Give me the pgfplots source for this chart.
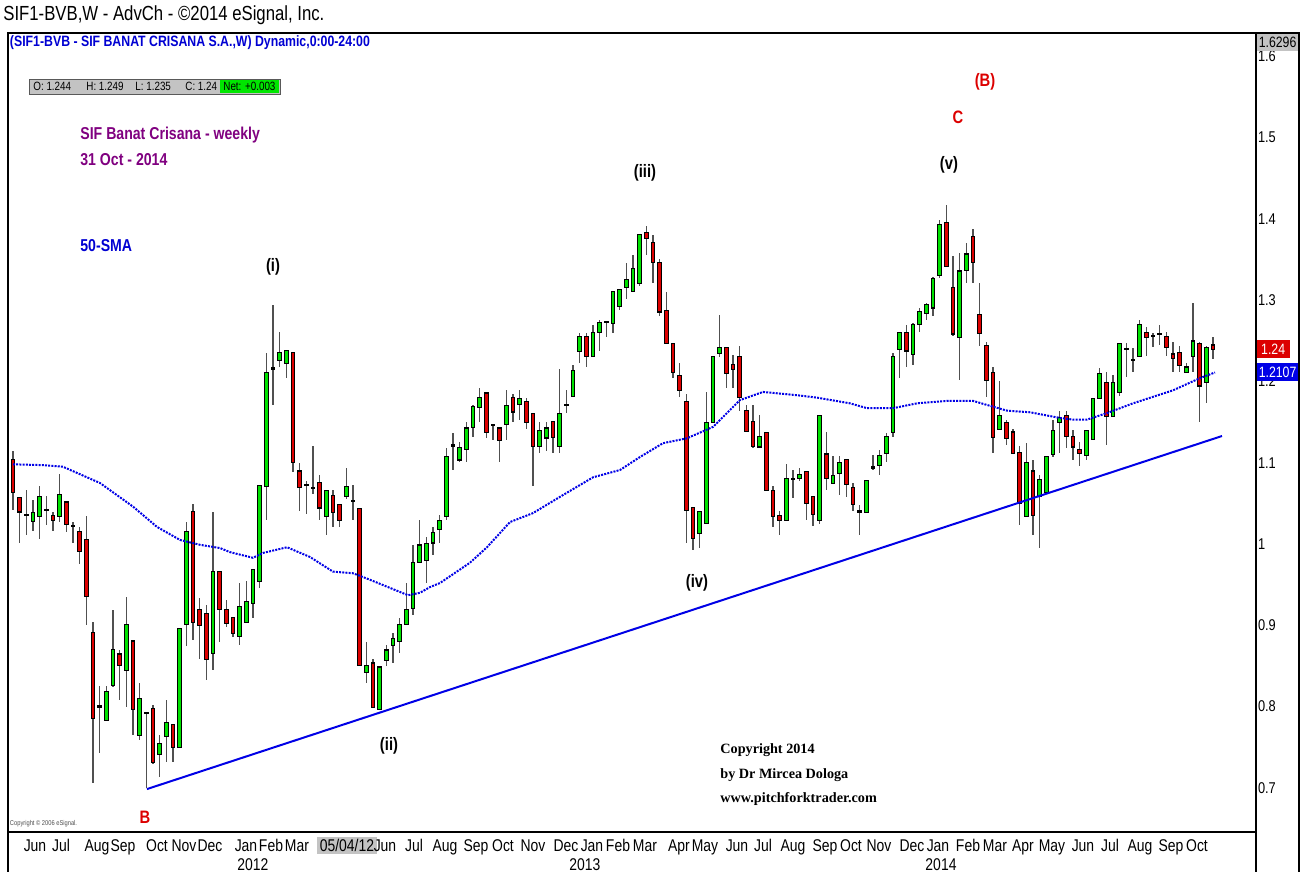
\documentclass[border=0pt]{standalone}
\usepackage{fontspec}
\setmainfont{Liberation Sans}
\newfontfamily\nar{Liberation Sans}[FakeStretch=0.82]
\newfontfamily\ser{Liberation Serif}
\usepackage{pgfplots}
\usepackage{pgfplotstable}
\pgfplotsset{compat=1.18}
\definecolor{cgreen}{RGB}{0,225,0}
\definecolor{cred}{RGB}{220,0,0}
\definecolor{wick}{RGB}{80,80,80}
\definecolor{smablue}{RGB}{0,0,230}
\definecolor{hdrblue}{RGB}{0,0,210}
\definecolor{purp}{RGB}{128,0,128}
\definecolor{boxgray}{RGB}{195,195,195}
\definecolor{netgreen}{RGB}{0,230,0}

% weekly candles: x = week index, open high low close
\pgfplotstableread{
x o h l c
0 1.103 1.114 1.042 1.064
1 1.056 1.057 1.001 1.040
2 1.036 1.066 1.011 1.036
3 1.028 1.054 1.016 1.038
4 1.035 1.071 1.006 1.058
5 1.042 1.059 1.023 1.042
6 1.034 1.039 1.016 1.030
7 1.034 1.086 1.027 1.060
8 1.051 1.053 1.015 1.025
9 1.022 1.027 1.001 1.022
10 1.015 1.021 0.976 0.991
11 1.005 1.034 0.900 0.936
12 0.890 0.904 0.706 0.786
13 0.800 0.825 0.743 0.800
14 0.784 0.825 0.783 0.818
15 0.827 0.919 0.824 0.870
16 0.864 0.870 0.808 0.851
17 0.845 0.935 0.800 0.900
18 0.880 0.880 0.765 0.797
19 0.765 0.829 0.759 0.809
20 0.792 0.793 0.700 0.792
21 0.797 0.802 0.730 0.732
22 0.742 0.765 0.714 0.754
23 0.764 0.808 0.732 0.780
24 0.777 0.777 0.732 0.750
25 0.750 0.895 0.750 0.895
26 0.902 1.027 0.874 1.015
27 1.039 1.049 0.882 0.904
28 0.919 0.934 0.859 0.901
29 0.914 0.925 0.833 0.859
30 0.866 1.039 0.845 0.965
31 0.966 0.966 0.880 0.920
32 0.919 0.931 0.898 0.903
33 0.909 0.909 0.886 0.891
34 0.887 0.952 0.876 0.922
35 0.904 0.954 0.903 0.929
36 0.927 0.968 0.909 0.968
37 0.955 1.073 0.946 1.071
38 1.071 1.235 1.030 1.210
39 1.216 1.294 1.171 1.216
40 1.226 1.261 1.218 1.235
41 1.223 1.237 1.204 1.237
42 1.235 1.235 1.089 1.101
43 1.089 1.100 1.040 1.070
44 1.073 1.078 1.037 1.073
45 1.069 1.121 1.062 1.069
46 1.075 1.085 1.030 1.045
47 1.035 1.065 1.011 1.065
48 1.059 1.066 1.021 1.039
49 1.048 1.048 1.021 1.030
50 1.059 1.093 1.055 1.070
51 1.053 1.073 1.030 1.053
52 1.043 1.043 0.851 0.851
53 0.843 0.880 0.829 0.850
54 0.853 0.859 0.800 0.800
55 0.797 0.848 0.796 0.848
56 0.857 0.876 0.850 0.869
57 0.876 0.890 0.854 0.883
58 0.881 0.909 0.866 0.900
59 0.902 0.952 0.902 0.919
60 0.921 0.999 0.913 0.977
61 0.978 1.030 0.978 0.998
62 0.980 1.009 0.952 1.000
63 1.002 1.021 0.987 1.013
64 1.019 1.036 1.001 1.028
65 1.034 1.118 1.030 1.107
66 1.121 1.137 1.091 1.121
67 1.104 1.126 1.101 1.118
68 1.117 1.150 1.101 1.142
69 1.144 1.171 1.132 1.168
70 1.169 1.192 1.150 1.180
71 1.185 1.185 1.130 1.138
72 1.146 1.147 1.128 1.146
73 1.142 1.142 1.101 1.128
74 1.148 1.189 1.128 1.170
75 1.180 1.185 1.150 1.163
76 1.172 1.189 1.153 1.178
77 1.175 1.179 1.142 1.150
78 1.160 1.160 1.071 1.121
79 1.121 1.150 1.112 1.139
80 1.131 1.150 1.114 1.142
81 1.150 1.150 1.112 1.132
82 1.121 1.215 1.112 1.160
83 1.171 1.189 1.161 1.171
84 1.182 1.220 1.182 1.213
85 1.237 1.259 1.222 1.254
86 1.254 1.259 1.218 1.231
87 1.231 1.269 1.231 1.259
88 1.261 1.276 1.237 1.272
89 1.273 1.274 1.255 1.273
90 1.272 1.310 1.259 1.310
91 1.293 1.312 1.288 1.312
92 1.316 1.346 1.301 1.325
93 1.311 1.356 1.311 1.338
94 1.321 1.380 1.317 1.380
95 1.382 1.391 1.356 1.376
96 1.370 1.380 1.321 1.347
97 1.346 1.351 1.280 1.286
98 1.286 1.310 1.247 1.247
99 1.246 1.246 1.204 1.212
100 1.207 1.223 1.181 1.189
101 1.175 1.185 1.001 1.042
102 1.044 1.044 0.993 1.008
103 1.014 1.039 0.995 1.039
104 1.026 1.187 1.026 1.149
105 1.150 1.230 1.150 1.230
106 1.235 1.282 1.230 1.241
107 1.241 1.241 1.192 1.210
108 1.220 1.233 1.192 1.215
109 1.230 1.244 1.163 1.181
110 1.164 1.171 1.139 1.139
111 1.150 1.171 1.118 1.121
112 1.120 1.159 1.120 1.131
113 1.136 1.136 1.066 1.066
114 1.065 1.071 1.021 1.035
115 1.034 1.040 1.011 1.030
116 1.030 1.098 1.030 1.080
117 1.080 1.091 1.056 1.080
118 1.081 1.093 1.077 1.085
119 1.089 1.089 1.030 1.050
120 1.058 1.058 1.022 1.037
121 1.030 1.157 1.025 1.157
122 1.110 1.138 1.066 1.081
123 1.075 1.108 1.075 1.084
124 1.087 1.108 1.060 1.100
125 1.103 1.103 1.058 1.074
126 1.069 1.075 1.040 1.049
127 1.040 1.048 1.011 1.040
128 1.039 1.077 1.038 1.077
129 1.094 1.110 1.091 1.094
130 1.097 1.116 1.085 1.108
131 1.112 1.136 1.101 1.132
132 1.138 1.235 1.132 1.230
133 1.240 1.259 1.204 1.259
134 1.259 1.269 1.218 1.238
135 1.234 1.272 1.220 1.269
136 1.271 1.290 1.261 1.285
137 1.284 1.296 1.276 1.294
138 1.291 1.329 1.280 1.326
139 1.331 1.399 1.327 1.392
140 1.395 1.417 1.342 1.342
141 1.315 1.354 1.256 1.259
142 1.255 1.358 1.202 1.335
143 1.337 1.370 1.321 1.356
144 1.377 1.388 1.321 1.347
145 1.282 1.321 1.243 1.260
146 1.243 1.249 1.181 1.202
147 1.210 1.218 1.112 1.132
148 1.141 1.200 1.140 1.157
149 1.149 1.153 1.122 1.130
150 1.137 1.141 1.112 1.112
151 1.112 1.120 1.023 1.051
152 1.034 1.124 1.034 1.100
153 1.089 1.103 1.011 1.036
154 1.059 1.085 0.995 1.079
155 1.064 1.107 1.064 1.107
156 1.111 1.153 1.107 1.139
157 1.150 1.163 1.112 1.155
158 1.157 1.163 1.118 1.133
159 1.132 1.140 1.103 1.120
160 1.116 1.126 1.096 1.112
161 1.110 1.139 1.103 1.139
162 1.129 1.180 1.129 1.178
163 1.180 1.216 1.180 1.209
164 1.198 1.211 1.122 1.157
165 1.157 1.208 1.157 1.198
166 1.187 1.247 1.182 1.246
167 1.240 1.247 1.206 1.240
168 1.226 1.241 1.211 1.226
169 1.231 1.276 1.231 1.269
170 1.259 1.267 1.231 1.255
171 1.256 1.259 1.242 1.256
172 1.258 1.269 1.245 1.258
173 1.255 1.261 1.231 1.242
174 1.233 1.249 1.212 1.229
175 1.235 1.244 1.212 1.220
176 1.212 1.223 1.212 1.217
177 1.231 1.296 1.211 1.249
178 1.246 1.249 1.150 1.195
179 1.199 1.244 1.174 1.241
180 1.244 1.255 1.228 1.240
}\candles

\begin{document}
\begin{tikzpicture}
\path[use as bounding box] (0,0) rectangle (657pt,436pt);
\begin{axis}[
    at={(4pt,20pt)}, anchor=south west,
    scale only axis, width=624pt, height=399.5pt,
    xmin=-0.75, xmax=186.45, ymin=0.6458, ymax=1.6285,
    clip=false,
    axis line style={black, line width=0.6pt},
    xtick={3.3,7.2,12.6,16.5,21.6,25.65,29.55,34.95,38.7,42.6,50.1,55.8,60.15,64.8,69.45,73.5,78,82.95,86.85,90.75,94.8,99.9,103.8,108.6,112.5,117,121.8,125.7,129.9,134.85,138.75,143.25,147.3,151.5,155.85,160.5,164.55,169.05,173.7,177.6},
    xticklabels={Jun,Jul,Aug,Sep,Oct,Nov,Dec,Jan,Feb,Mar,{\setlength{\fboxsep}{1.2pt}\colorbox{boxgray}{05/04/12}},Jun,Jul,Aug,Sep,Oct,Nov,Dec,Jan,Feb,Mar,Apr,May,Jun,Jul,Aug,Sep,Oct,Nov,Dec,Jan,Feb,Mar,Apr,May,Jun,Jul,Aug,Sep,Oct},
    xticklabel style={font=\nar\fontsize{8.5}{9}\selectfont, anchor=base, yshift=-9.8pt},
    ytick={0.7,0.8,0.9,1,1.1,1.2,1.3,1.4,1.5,1.6},
    yticklabels={0.7,0.8,0.9,1,1.1,1.2,1.3,1.4,1.5,1.6},
    yticklabel pos=right,
    yticklabel style={font=\nar\fontsize{7.8}{9}\selectfont, anchor=west, inner sep=0.8pt},
    xtick style={draw=none}, ytick style={draw=none},
    candle/.style={draw=none, no markers, error bars/.cd, y dir=both, y explicit, error mark=none},
]
% wicks
\addplot[candle, error bar style={draw=wick, line width=0.6pt}]
    table[x=x, y expr={(\thisrow{h}+\thisrow{l})/2}, y error expr={(\thisrow{h}-\thisrow{l})/2}] {\candles};
% body outlines
\addplot[candle, error bar style={draw=black, line width=2.4pt}]
    table[x=x, y expr={(\thisrow{o}+\thisrow{c})/2}, y error expr={abs(\thisrow{c}-\thisrow{o})/2+0.0014}] {\candles};
% up bodies
\addplot[candle, error bar style={draw=cgreen, line width=1.4pt}]
    table[x=x, y expr={(\thisrow{o}+\thisrow{c})/2}, y error expr={max(\thisrow{c}-\thisrow{o},0)/2}] {\candles};
% down bodies
\addplot[candle, error bar style={draw=cred, line width=1.4pt}]
    table[x=x, y expr={(\thisrow{o}+\thisrow{c})/2}, y error expr={max(\thisrow{o}-\thisrow{c},0)/2}] {\candles};
% 50-SMA
\addplot[smablue, line width=1pt, dash pattern=on 1pt off 0.6pt] coordinates {
(0,1.098) (4.5,1.097) (7.5,1.095) (13.05,1.075) (18,1.046) (21.6,1.021) (25.05,1.005)
(28.05,0.999) (31.05,0.995) (32.55,0.990) (36,0.983) (37.5,0.989) (41.1,0.996) (44.55,0.984)
(48,0.966) (51,0.964) (53.55,0.956) (56.55,0.946) (59.25,0.937) (61.05,0.940) (62.55,0.947)
(64.05,0.952) (68.55,0.977) (71.1,0.996) (74.55,1.027) (78,1.038) (82.05,1.058) (87,1.082)
(91.05,1.091) (94.05,1.107) (97.5,1.124) (101.1,1.130) (105,1.144) (109.05,1.177) (112.5,1.187)
(117.6,1.183) (120.6,1.180) (125.55,1.173) (128.1,1.167) (132,1.167) (135.6,1.173) (140.1,1.176)
(144,1.176) (146.1,1.171) (149.1,1.164) (152.55,1.162) (157.05,1.155) (159,1.153) (161.1,1.153)
(164.1,1.161) (168,1.173) (174,1.189) (178.05,1.204) (180.3,1.211)
};
% trend line
\addplot[smablue, line width=1pt] coordinates {(20.1,0.6986) (181.35,1.1328)};
\end{axis}

% frame around axis and price column
\draw[black, line width=0.6pt] (4pt,0) -- (4pt,419.5pt) -- (649.5pt,419.5pt) -- (649.5pt,0);
\draw[black, line width=0.6pt] (628pt,0) -- (628pt,20pt);

% price boxes
\fill[boxgray] (628.3pt,410.5pt) rectangle (649.2pt,419.2pt);
\node[font=\nar\fontsize{7.5}{9}\selectfont, inner sep=0] at (638.8pt,414.8pt) {1.6296};
\fill[cred] (628.3pt,257pt) rectangle (645pt,266pt);
\node[font=\nar\fontsize{7.5}{9}\selectfont, text=white, inner sep=0] at (636.6pt,261.5pt) {1.24};
\fill[smablue] (628.3pt,245.5pt) rectangle (649.2pt,254.5pt);
\node[font=\nar\fontsize{7.5}{9}\selectfont, text=white, inner sep=0] at (638.8pt,250pt) {1.2107};

% headers
\node[anchor=base west, inner sep=0, font=\nar\fontsize{10.2}{12}\selectfont] at (1.5pt,425.5pt) {SIF1-BVB,W - AdvCh - ©2014 eSignal, Inc.};
\node[anchor=base west, inner sep=0, text=hdrblue, font=\nar\bfseries\fontsize{7.5}{9}\selectfont] at (4.8pt,412.5pt) {(SIF1-BVB - SIF BANAT CRISANA S.A.,W) Dynamic,0:00-24:00};

% OHLC box
\filldraw[fill=boxgray, draw=gray!70!black, line width=0.4pt] (14.5pt,389pt) rectangle (140pt,396.5pt);
\fill[netgreen] (110pt,389.3pt) rectangle (139.7pt,396.2pt);
\begin{scope}[every node/.style={anchor=base west, inner sep=0, font=\nar\fontsize{6}{7}\selectfont}]
\node at (16.5pt,390.8pt) {O: 1.244};
\node at (43pt,390.8pt) {H: 1.249};
\node at (67.5pt,390.8pt) {L: 1.235};
\node at (92.5pt,390.8pt) {C: 1.24};
\node at (111.5pt,390.8pt) {Net: +0.003};
\end{scope}

% chart notes
\node[anchor=base west, inner sep=0, text=purp, font=\nar\bfseries\fontsize{8.6}{10}\selectfont] at (40pt,366pt) {SIF Banat Crisana - weekly};
\node[anchor=base west, inner sep=0, text=purp, font=\nar\bfseries\fontsize{8.6}{10}\selectfont] at (40pt,353pt) {31 Oct - 2014};
\node[anchor=base west, inner sep=0, text=hdrblue, font=\nar\bfseries\fontsize{8.6}{10}\selectfont] at (40pt,310pt) {50-SMA};

\begin{scope}[every node/.style={inner sep=0, font=\nar\bfseries\fontsize{9}{10}\selectfont}]
\node at (136.5pt,302.5pt) {(i)};
\node at (194.5pt,63pt) {(ii)};
\node at (322.5pt,349.5pt) {(iii)};
\node at (348.5pt,144.5pt) {(iv)};
\node at (474.5pt,353.5pt) {(v)};
\node[text=cred] at (479pt,377.5pt) {C};
\node[text=cred] at (492.5pt,395pt) {(B)};
\node[text=cred] at (72.5pt,27.5pt) {B};
\end{scope}

\begin{scope}[every node/.style={anchor=base west, inner sep=0, font=\ser\bfseries\fontsize{7.1}{8}\selectfont}]
\node at (360pt,59pt) {Copyright 2014};
\node at (360pt,46.5pt) {by Dr Mircea Dologa};
\node at (360pt,34.5pt) {www.pitchforktrader.com};
\end{scope}
\node[anchor=base west, inner sep=0, font=\nar\fontsize{3.5}{4}\selectfont, text=gray!60!black] at (4.8pt,23pt) {Copyright © 2006 eSignal.};

% years
\begin{scope}[every node/.style={inner sep=0, font=\nar\fontsize{8.5}{9}\selectfont}]
\node at (126.5pt,3.5pt) {2012};
\node at (292.5pt,3.5pt) {2013};
\node at (470.5pt,3.5pt) {2014};
\end{scope}
\end{tikzpicture}
\end{document}
